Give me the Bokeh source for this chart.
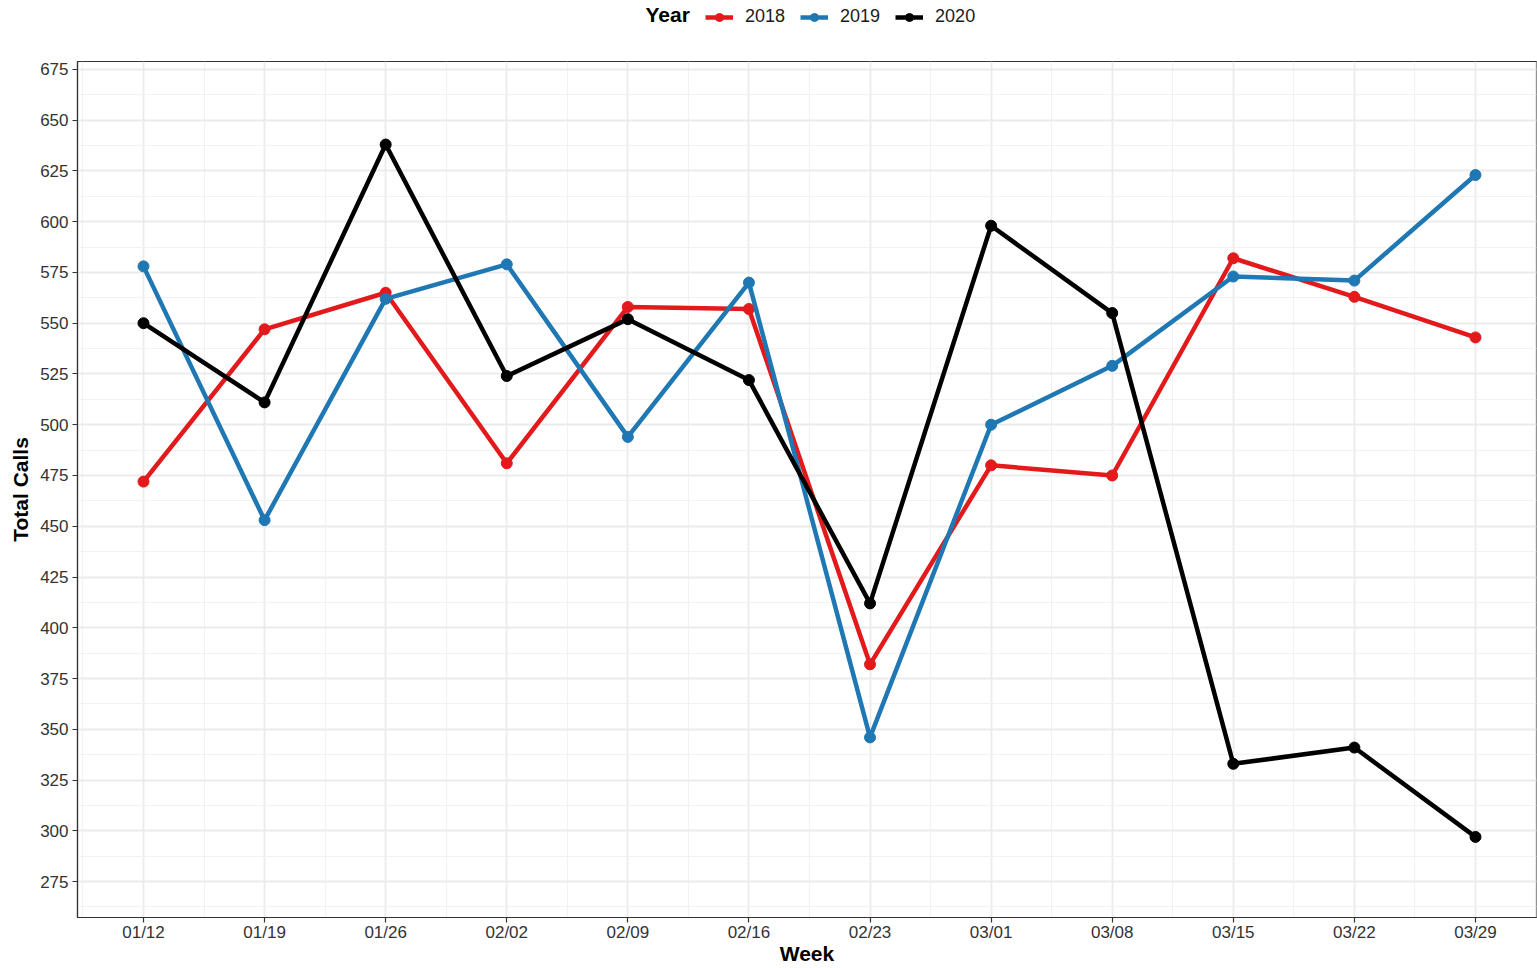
from bokeh.plotting import figure
from bokeh.layouts import column
from bokeh.models import FixedTicker, Range1d, Legend, LegendItem, Label, ColumnDataSource
from bokeh.embed import file_html
from bokeh.resources import INLINE

weeks = ["01/12", "01/19", "01/26", "02/02", "02/09", "02/16", "02/23",
         "03/01", "03/08", "03/15", "03/22", "03/29"]
calls_2018 = [472, 547, 565, 481, 558, 557, 382, 480, 475, 582, 563, 543]
calls_2019 = [578, 453, 562, 579, 494, 570, 346, 500, 529, 573, 571, 623]
calls_2020 = [550, 511, 638, 524, 552, 522, 412, 598, 555, 333, 341, 297]
years = ["2018", "2019", "2020"]
colors = ["#E31A1C", "#1F78B4", "#000000"]
y_ticks = list(range(275, 676, 25))

FONT = "Liberation Sans"
W = 1537
TOP_H = 61
MAIN_H = 968 - TOP_H

# ---- legend strip on top (its ranges keep the shared data out of view) ----
top = figure(width=W, height=TOP_H, output_backend="svg", toolbar_location=None,
             x_range=Range1d(100, 101), y_range=Range1d(0, 1),
             min_border=0, min_border_left=0, min_border_right=0,
             min_border_top=0, min_border_bottom=0)
top.axis.visible = False
top.grid.visible = False
top.outline_line_color = None
top.background_fill_color = "white"
top.border_fill_color = "white"

# ---- main plot ----
p = figure(width=W, height=MAIN_H, output_backend="svg", toolbar_location=None,
           x_range=Range1d(-0.545, 11.504), y_range=Range1d(257.3, 678.9),
           min_border_left=77, min_border_right=1, min_border_top=0, min_border_bottom=51)
p.background_fill_color = "white"
p.border_fill_color = "white"
p.outline_line_color = "#333333"
p.outline_line_width = 1.2

xs = list(range(len(weeks)))
p.xaxis.ticker = FixedTicker(ticks=xs, minor_ticks=[i + 0.5 for i in range(-1, len(weeks))])
p.xaxis.major_label_overrides = {i: w for i, w in enumerate(weeks)}
p.yaxis.ticker = FixedTicker(ticks=y_ticks, minor_ticks=[t + 12.5 for t in range(250, 700, 25)])

for ax in (p.xaxis[0], p.yaxis[0]):
    ax.axis_line_color = "#333333"
    ax.axis_line_width = 1.2
    ax.major_tick_line_color = "#333333"
    ax.major_tick_line_width = 1.2
    ax.major_tick_out = 5
    ax.major_tick_in = 0
    ax.minor_tick_line_color = None
    ax.major_label_text_font = FONT
    ax.major_label_text_font_size = "17px"
    ax.major_label_text_color = "#333333"
    ax.axis_label_text_font = FONT
    ax.axis_label_text_font_size = "21px"
    ax.axis_label_text_font_style = "bold"
    ax.axis_label_text_color = "#000000"

p.xaxis.axis_label = "Week"
p.yaxis.axis_label = "Total Calls"
p.xaxis.major_label_standoff = 0
p.yaxis.major_label_standoff = 4
p.xaxis.axis_label_standoff = -3
p.yaxis.axis_label_standoff = 5

for g in (p.xgrid[0], p.ygrid[0]):
    g.grid_line_color = "#EBEBEB"
    g.grid_line_width = 1.8
    g.minor_grid_line_color = "#F2F2F2"
    g.minor_grid_line_width = 1.0

items = []
for yr, col, vals in zip(years, colors, [calls_2018, calls_2019, calls_2020]):
    src = ColumnDataSource(dict(x=xs, y=vals))
    p.line("x", "y", source=src, line_color=col, line_width=4.5)
    p.scatter("x", "y", source=src, size=11, fill_color=col, line_color=col)
    # legend sample renderers in the top strip (data falls outside its ranges)
    ln = top.line("x", "y", source=src, line_color=col, line_width=4.5)
    sc = top.scatter("x", "y", source=src, size=10, fill_color=col, line_color=col)
    items.append(LegendItem(label=yr, renderers=[ln, sc]))

legend = Legend(items=items, orientation="horizontal", location=(628, 34),
                padding=0, margin=0, spacing=15, label_standoff=12,
                glyph_width=28, glyph_height=20, label_height=20,
                label_text_font=FONT, label_text_font_size="18px",
                label_text_color="#1A1A1A",
                background_fill_alpha=0, border_line_color=None)
top.add_layout(legend, "center")

top.add_layout(Label(x=568, y=47, x_units="screen", y_units="screen", text="Year",
                     text_font=FONT, text_font_size="21px", text_font_style="bold",
                     text_color="#000000", text_baseline="middle"))

layout = column(top, p, spacing=0)
open("out.html", "w").write(file_html(layout, INLINE))
